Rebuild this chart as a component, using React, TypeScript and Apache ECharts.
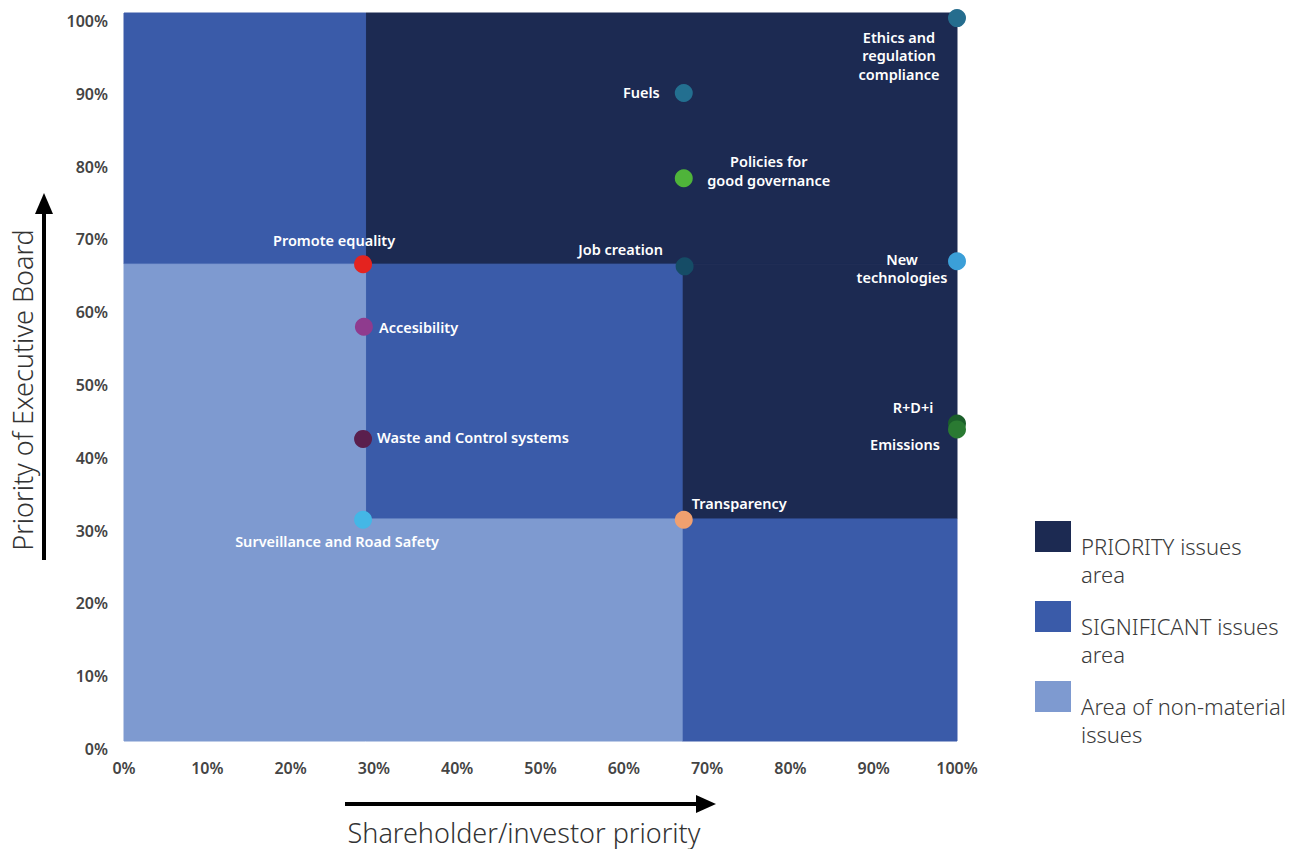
import React, { useEffect, useRef } from "react";
import * as echarts from "echarts";

// ---- data ----
const issueNames = [
  "Ethics and\nregulation\ncompliance",
  "Fuels",
  "Policies for\ngood governance",
  "Job creation",
  "New\ntechnologies",
  "R+D+i",
  "Emissions",
  "Promote equality",
  "Accesibility",
  "Waste and Control systems",
  "Surveillance and Road Safety",
  "Transparency",
];
const investorPriority = [100, 67.2, 67.2, 67.3, 100, 100, 100, 28.7, 28.8, 28.7, 28.7, 67.2];
const boardPriority = [99.3, 89.0, 77.3, 65.2, 65.9, 43.6, 42.8, 65.5, 56.9, 41.5, 30.4, 30.4];
const issueColors = [
  "#256d8e", "#236f90", "#4fb43a", "#154c66", "#3b9fd8", "#1b5f2a",
  "#2a7a32", "#e4231f", "#8f3b8e", "#5a1f4d", "#44b7e6", "#f1a06f",
];

// zones: [x0, y0, x1, y1]
const priorityZones = [
  [29, 65.5, 100, 100],
  [67, 30.5, 100, 65.5],
];
const significantZones = [
  [0, 65.5, 29, 100],
  [29, 30.5, 67, 65.5],
  [67, 0, 100, 30.5],
];
const nonMaterialZones = [
  [0, 0, 29, 65.5],
  [29, 0, 67, 30.5],
];

const legendLabels = ["PRIORITY issues\narea", "SIGNIFICANT issues\narea", "Area of non-material\nissues"];
const axisTicks = [0, 10, 20, 30, 40, 50, 60, 70, 80, 90, 100];

// ---- styles ----
const PRIORITY_COLOR = "#1c2a52";
const SIGNIFICANT_COLOR = "#3a5ba9";
const NONMAT_COLOR = "#7e9ad0";
const zoneColors = [PRIORITY_COLOR, SIGNIFICANT_COLOR, NONMAT_COLOR];

// label layout per issue: [dx, dy, align]
const labelLayout: [number, number, string][] = [
  [-58, 37, "center"],
  [-24, -1, "right"],
  [85, -8, "center"],
  [-64, -17, "center"],
  [-55, 7, "center"],
  [-44, -17, "center"],
  [-52, 15, "center"],
  [-29, -24, "center"],
  [15, 0, "left"],
  [14, -2, "left"],
  [-26, 21, "center"],
  [8, -17, "left"],
];

const FONT = "'Noto Sans', 'Open Sans', sans-serif";

export default function App() {
  const ref = useRef<HTMLDivElement>(null);
  useEffect(() => {
    if (!ref.current) return;
    const chart = echarts.init(ref.current, undefined, { renderer: "svg" });

    const zoneToArea = (z: number[], color: string) => [
      { xAxis: z[0], yAxis: z[1], itemStyle: { color, opacity: 1, borderColor: color, borderWidth: 1 } },
      { xAxis: z[2], yAxis: z[3] },
    ];
    const areas = [
      ...priorityZones.map((z) => zoneToArea(z, PRIORITY_COLOR)),
      ...significantZones.map((z) => zoneToArea(z, SIGNIFICANT_COLOR)),
      ...nonMaterialZones.map((z) => zoneToArea(z, NONMAT_COLOR)),
    ];

    const points = issueNames.map((name, i) => ({
      name,
      value: [investorPriority[i], boardPriority[i]],
      itemStyle: { color: issueColors[i], opacity: 1 },
      label: {
        show: true,
        formatter: name,
        position: "inside",
        offset: [labelLayout[i][0], labelLayout[i][1]],
        align: labelLayout[i][2],
        color: "#ffffff",
        fontFamily: FONT,
        fontWeight: 600,
        fontSize: 14.5,
        lineHeight: 18.5,
      },
    }));

    const legendGraphics: any[] = [];
    legendLabels.forEach((t, i) => {
      const top = 521 + i * 80;
      legendGraphics.push({
        type: "rect",
        left: 1035,
        top,
        shape: { width: 36, height: 31 },
        style: { fill: zoneColors[i] },
      });
      legendGraphics.push({
        type: "text",
        left: 1081,
        top: top + 11,
        style: {
          text: t,
          fill: "#3a3a3a",
          font: `300 22px ${FONT}`,
          lineHeight: 28,
        },
      });
    });

    const arrowColor = "#000";
    chart.setOption({
      animation: false,
      backgroundColor: "#ffffff",
      grid: { left: 124, right: 349, top: 13, bottom: 108 },
      xAxis: {
        type: "value",
        min: 0,
        max: 100,
        interval: 10,
        axisLine: { show: false },
        axisTick: { show: false },
        splitLine: { show: false },
        axisLabel: {
          formatter: (v: number) => (axisTicks.includes(v) ? `${v}%` : ""),
          color: "#444",
          fontFamily: FONT,
          fontWeight: 600,
          fontSize: 16,
          margin: 19,
        },
      },
      yAxis: {
        type: "value",
        min: 0,
        max: 100,
        interval: 10,
        axisLine: { show: false },
        axisTick: { show: false },
        splitLine: { show: false },
        axisLabel: {
          formatter: (v: number) => (axisTicks.includes(v) ? `${v}%` : ""),
          color: "#444",
          fontFamily: FONT,
          fontWeight: 600,
          fontSize: 16,
          margin: 16,
          verticalAlign: "top",
        },
      },
      series: [
        {
          type: "scatter",
          data: [],
          z: 1,
          silent: true,
          markArea: { silent: true, data: areas },
        },
        {
          type: "scatter",
          z: 3,
          symbolSize: 18,
          data: points,
        },
      ],
      graphic: [
        // y arrow
        { type: "line", shape: { x1: 44, y1: 560, x2: 44, y2: 212 }, style: { stroke: arrowColor, lineWidth: 4 } },
        { type: "polygon", shape: { points: [[35, 214], [53, 214], [44, 193]] }, style: { fill: arrowColor } },
        // x arrow
        { type: "line", shape: { x1: 345, y1: 804, x2: 698, y2: 804 }, style: { stroke: arrowColor, lineWidth: 4 } },
        { type: "polygon", shape: { points: [[696, 795], [696, 813], [716, 804]] }, style: { fill: arrowColor } },
        {
          type: "text",
          x: 22,
          y: 390,
          rotation: Math.PI / 2,
          style: {
            text: "Priority of Executive Board",
            fill: "#333",
            font: `300 27px ${FONT}`,
            align: "center",
            verticalAlign: "middle",
          },
        },
        {
          type: "text",
          x: 524,
          y: 832,
          style: {
            text: "Shareholder/investor priority",
            fill: "#333",
            font: `300 27px ${FONT}`,
            align: "center",
            verticalAlign: "middle",
          },
        },
        ...legendGraphics,
      ],
    });
    return () => chart.dispose();
  }, []);
  return <div ref={ref} style={{ width: 1306, height: 849, position: "absolute", left: 0, top: 0 }} />;
}
